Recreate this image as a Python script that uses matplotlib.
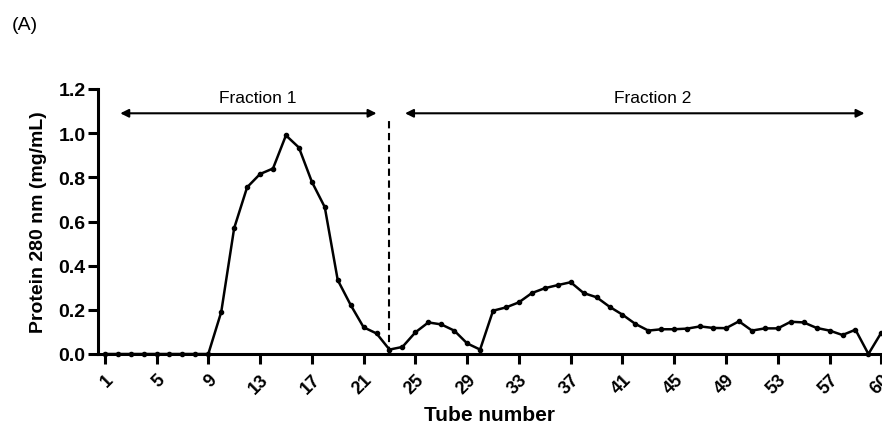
import matplotlib
matplotlib.use("Agg")
import matplotlib.pyplot as plt

plt.rcParams['font.family'] = ['Liberation Sans', 'DejaVu Sans']

# ---- data ----
tubes = list(range(1, 62))
protein = [0, 0, 0, 0, 0, 0, 0, 0, 0,
           0.19, 0.57, 0.755, 0.815, 0.84, 0.99, 0.935, 0.78, 0.665, 0.335,
           0.222, 0.121, 0.093, 0.02, 0.032, 0.098, 0.143, 0.134, 0.106, 0.048,
           0.02, 0.196, 0.211, 0.234, 0.276, 0.298, 0.312, 0.325, 0.276, 0.257,
           0.214, 0.178, 0.136, 0.106, 0.112, 0.112, 0.115, 0.125, 0.118, 0.117,
           0.148, 0.106, 0.116, 0.116, 0.146, 0.143, 0.118, 0.106, 0.086, 0.110,
           0.0, 0.097]
xtick_pos = [1, 5, 9, 13, 17, 21, 25, 29, 33, 37, 41, 45, 49, 53, 57, 61]
xtick_labels = ["1", "5", "9", "13", "17", "21", "25", "29", "33", "37",
                "41", "45", "49", "53", "57", "60"]
yticks = [0.0, 0.2, 0.4, 0.6, 0.8, 1.0, 1.2]

split_tube = 23
fraction1 = (2.2, 22.0)
fraction2 = (24.2, 59.7)

fig = plt.figure(figsize=(8.82, 4.35), dpi=100)
ax = fig.add_axes([98 / 882, 1 - 355 / 435, 1 - 98 / 882, 265 / 435])

ax.plot(tubes, protein, color='black', lw=1.8, marker='o', markersize=3,
        clip_on=False, zorder=3)

# split line between fractions
ax.plot([split_tube, split_tube], [0.0, 1.06], color='black', lw=1.5,
        linestyle=(0, (3.5, 2.2)))

# fraction arrows
for (a, b), name in [(fraction1, "Fraction 1"), (fraction2, "Fraction 2")]:
    ax.annotate("", xy=(a, 1.09), xytext=(b, 1.09),
                arrowprops=dict(arrowstyle='<|-|>', color='black', lw=1.5,
                                mutation_scale=12, shrinkA=0, shrinkB=0))
ax.text(12.85, 1.16, "Fraction 1", ha='center', va='center', fontsize=12.5)
ax.text(43.3, 1.16, "Fraction 2", ha='center', va='center', fontsize=12.5)

ax.set_xlim(0.48, 61.05)
ax.set_ylim(0, 1.2)
ax.set_yticks(yticks)
ax.set_yticklabels([f"{v:.1f}" for v in yticks], fontsize=14, fontweight='bold')
ax.set_xticks(xtick_pos)
ax.set_xticklabels(xtick_labels, fontsize=13, fontweight='bold', rotation=45,
                   ha='right', rotation_mode='anchor')

for s in ['top', 'right']:
    ax.spines[s].set_visible(False)
for s in ['left', 'bottom']:
    ax.spines[s].set_linewidth(2.2)
ax.tick_params(axis='both', width=2.2, length=7, direction='out')
ax.tick_params(axis='x', pad=5)
ax.tick_params(axis='y', pad=2)

ax.set_ylabel("Protein 280 nm (mg/mL)", fontsize=14, fontweight='bold', labelpad=8)
ax.set_xlabel("Tube number", fontsize=15, fontweight='bold', labelpad=6)

fig.text(12 / 882, 1 - 26 / 435, "(A)", fontsize=14, va='center', ha='left')

fig.savefig("out.png", dpi=100)
